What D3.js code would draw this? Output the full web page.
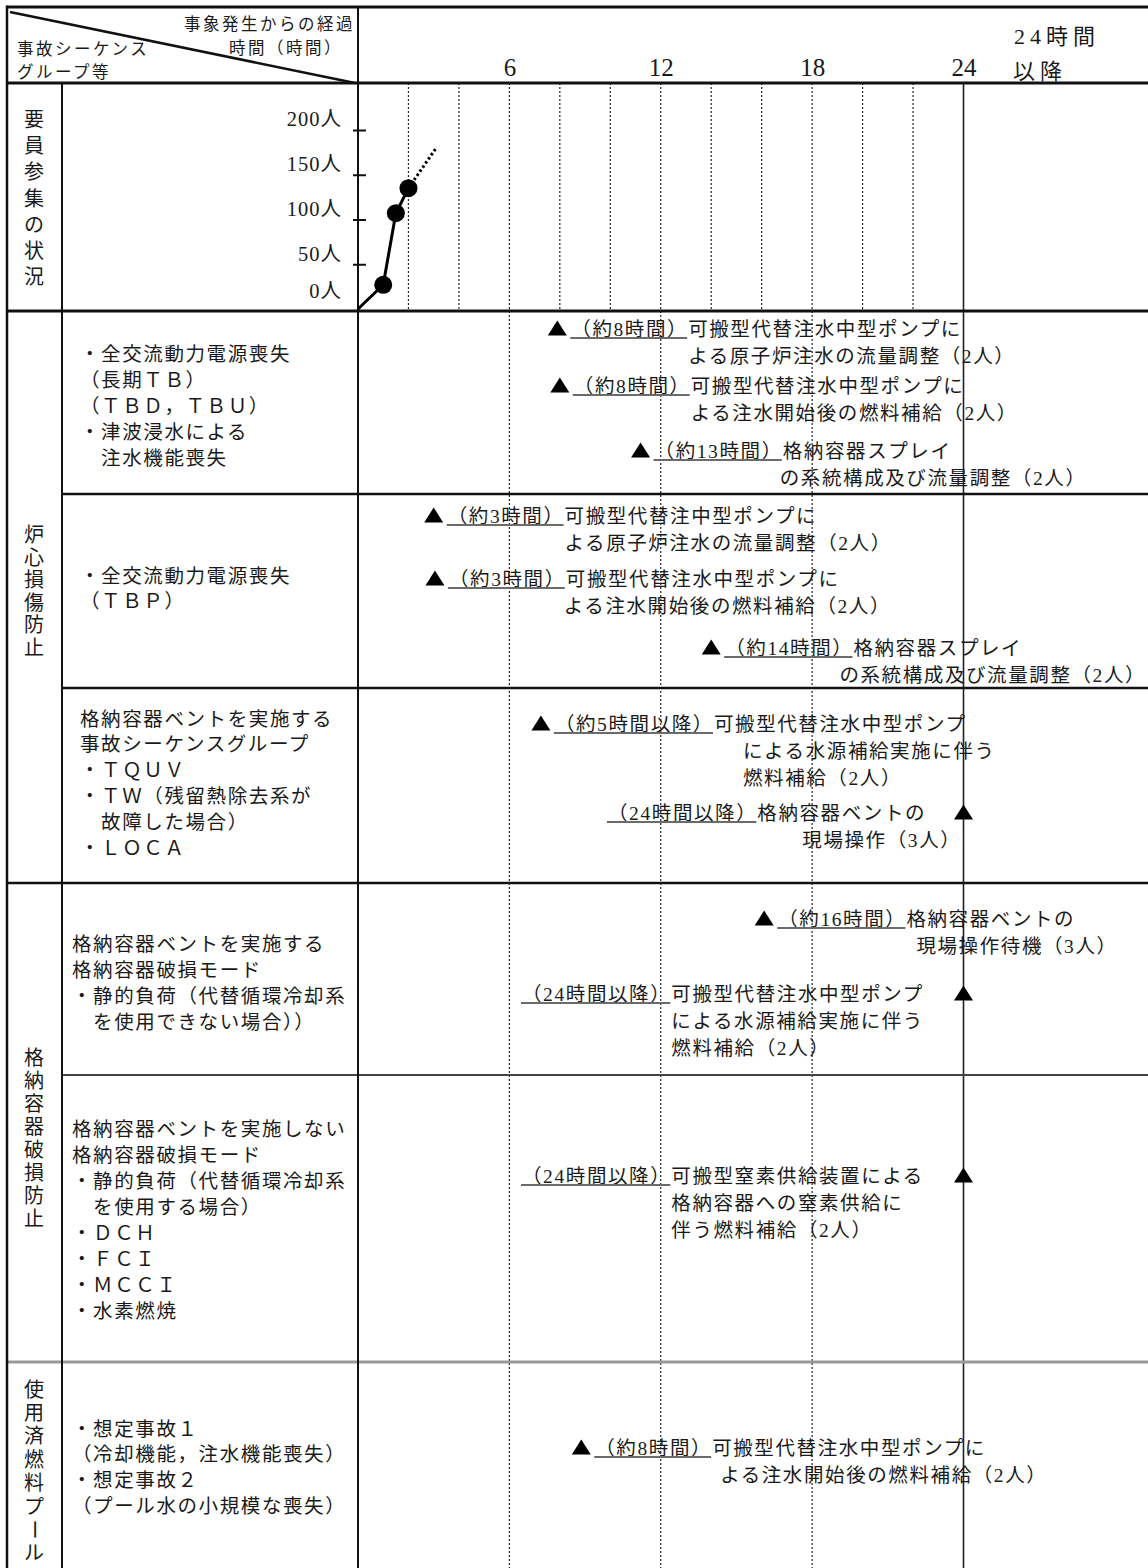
<!DOCTYPE html>
<html><head><meta charset="utf-8">
<script src="https://cdn.jsdelivr.net/npm/d3@7"></script>
<style>
html,body{margin:0;padding:0;background:#fff;}
svg{display:block;}
</style></head><body>
<svg id="chart" width="1148" height="1568"></svg>
<script>
// ---------------- data ----------------
const hourTicks = [6, 12, 18, 24];
const gridHours = [2, 4, 6, 8, 10, 12, 14, 16, 18, 20, 22];
const fullGridHours = [6, 12, 18];
const staffTickValues = [0, 50, 100, 150, 200];
const staffHours = [0, 1.0, 1.5, 2.0];
const staffCounts = [0, 27, 107, 135];
const staffTrendHours = [2.0, 3.1];
const staffTrendCounts = [135, 180];

const headerTopRight = ["事象発生からの経過", "時間（時間）"];
const headerLeft = ["事故シーケンス", "グループ等"];
const afterLabel = ["24時間", "以降"];
const sectionLabels = ["要員参集の状況", "炉心損傷防止", "格納容器破損防止", "使用済燃料プール"];
const groupLines = [
  ["・全交流動力電源喪失", "（長期ＴＢ）", "（ＴＢＤ，ＴＢＵ）", "・津波浸水による", "　注水機能喪失"],
  ["・全交流動力電源喪失", "（ＴＢＰ）"],
  ["格納容器ベントを実施する", "事故シーケンスグループ", "・ＴＱＵＶ", "・ＴＷ（残留熱除去系が", "　故障した場合）", "・ＬＯＣＡ"],
  ["格納容器ベントを実施する", "格納容器破損モード", "・静的負荷（代替循環冷却系", "　を使用できない場合））"],
  ["格納容器ベントを実施しない", "格納容器破損モード", "・静的負荷（代替循環冷却系", "　を使用する場合）", "・ＤＣＨ", "・ＦＣＩ", "・ＭＣＣＩ", "・水素燃焼"],
  ["・想定事故１", "（冷却機能，注水機能喪失）", "・想定事故２", "（プール水の小規模な喪失）"]
];
const eventHours = [7.9, 8.0, 11.2, 3.0, 3.05, 14.0, 7.25, 24, 16.1, 24, 24, 8.85];
const eventTimeLabels = ["（約8時間）", "（約8時間）", "（約13時間）", "（約3時間）", "（約3時間）", "（約14時間）",
  "（約5時間以降）", "（24時間以降）", "（約16時間）", "（24時間以降）", "（24時間以降）", "（約8時間）"];
const eventTexts = [
  ["可搬型代替注水中型ポンプに", "よる原子炉注水の流量調整（2人）"],
  ["可搬型代替注水中型ポンプに", "よる注水開始後の燃料補給（2人）"],
  ["格納容器スプレイ", "の系統構成及び流量調整（2人）"],
  ["可搬型代替注中型ポンプに", "よる原子炉注水の流量調整（2人）"],
  ["可搬型代替注水中型ポンプに", "よる注水開始後の燃料補給（2人）"],
  ["格納容器スプレイ", "の系統構成及び流量調整（2人）"],
  ["可搬型代替注水中型ポンプ", "による水源補給実施に伴う", "燃料補給（2人）"],
  ["格納容器ベントの", "現場操作（3人）"],
  ["格納容器ベントの", "現場操作待機（3人）"],
  ["可搬型代替注水中型ポンプ", "による水源補給実施に伴う", "燃料補給（2人）"],
  ["可搬型窒素供給装置による", "格納容器への窒素供給に", "伴う燃料補給（2人）"],
  ["可搬型代替注水中型ポンプに", "よる注水開始後の燃料補給（2人）"]
];

// ---------------- layout ----------------
const W = 1148, H = 1568;
const LEFT = 7, COL1 = 62, COL2 = 358, TOP = 7, HEADER = 83, STAFF_BOTTOM = 311;
const sectionCenters = [198, 591, 1138, 1471];
const sectionSteps = [26.3, 22.5, 22.9, 23.4];
const groupX = [80, 80, 80, 72, 72, 72];
const groupY0 = [353, 575, 718, 943, 1128, 1428];
const groupStep = [26.2, 25, 25.8, 26.3, 26, 25.7];
const eventY = [328, 385, 450, 515, 578, 647, 723, 812, 918, 993, 1175, 1447];
const eventLabelX = [null, null, null, null, null, null, null, 608, null, 522, 522, null];
const eventIndent = [0, 0, -3, 0, -2, -14, 29, 45, 10, 0, 0, 8];
const LINE_STEP = 27;
const BODY_SIZE = 19.5, BODY_LS = 1.6, BODY_DY = 7.5;

const FONT = "'Liberation Serif','Noto Sans CJK JP',serif";
const INK = "#1a1a1a";

const svg = d3.select("#chart");
svg.append("rect").attr("width", W).attr("height", H).attr("fill", "#fff");

const x = d3.scaleLinear().domain([0, 24]).range([COL2, 963.5]);
const yStaff = d3.scaleLinear().domain([0, 200]).range([309, 130]);

// ---------- grid lines ----------
svg.append("g").selectAll("line").data(gridHours).join("line")
  .attr("x1", d => x(d)).attr("x2", d => x(d))
  .attr("y1", HEADER).attr("y2", d => fullGridHours.includes(d) ? H : STAFF_BOTTOM)
  .attr("stroke", "#222").attr("stroke-width", 1.2).attr("stroke-dasharray", "2,2");
svg.append("line").attr("x1", x(24)).attr("x2", x(24)).attr("y1", HEADER).attr("y2", H)
  .attr("stroke", "#222").attr("stroke-width", 1.6);

// ---------- table lines ----------
const tl = svg.append("g");
function hl(y, x1, w, c) { tl.append("line").attr("x1", x1).attr("x2", W).attr("y1", y).attr("y2", y).attr("stroke", c || "#111").attr("stroke-width", w); }
function vl(xx, y1, w) { tl.append("line").attr("x1", xx).attr("x2", xx).attr("y1", y1).attr("y2", H).attr("stroke", "#111").attr("stroke-width", w); }
hl(TOP, LEFT, 3);
hl(HEADER, LEFT, 3);
hl(STAFF_BOTTOM, LEFT, 3);
hl(494, COL1, 2.5);
hl(688, COL1, 2.5);
hl(883, LEFT, 2.5);
hl(1075, COL1, 2, "#444");
hl(1362, LEFT, 3, "#999");
vl(LEFT, TOP - 1.5, 2.5);
vl(COL1, HEADER, 2);
vl(COL2, TOP, 2);
tl.append("line").attr("x1", 10).attr("y1", 12).attr("x2", 355).attr("y2", 83)
  .attr("stroke", "#111").attr("stroke-width", 2.5);

// ---------- header text ----------
function txt(g, s, xx, y, size, ls, anchor) {
  return g.append("text").attr("x", xx).attr("y", y).text(s)
    .attr("font-family", FONT).attr("font-size", size).attr("fill", INK)
    .style("letter-spacing", ls + "px").attr("text-anchor", anchor || "start");
}
const hg = svg.append("g");
txt(hg, headerTopRight[0], 355, 30, 16.5, 2.5, "end");
txt(hg, headerTopRight[1], 343, 54, 16.5, 2.5, "end");
txt(hg, headerLeft[0], 17, 55, 16.5, 2.5);
txt(hg, headerLeft[1], 17, 78, 16.5, 2.5);
txt(hg, afterLabel[0], 1057, 44, 22, 5, "middle");
txt(hg, afterLabel[1], 1040, 79, 22, 5, "middle");

// hour axis labels
const xAxis = d3.axisTop(x).tickValues(hourTicks).tickSize(0).tickPadding(0).tickFormat(d => d);
const xa = svg.append("g").attr("transform", `translate(0,76)`).call(xAxis);
xa.select(".domain").remove();
xa.selectAll("text").attr("font-family", "'Liberation Serif',serif").attr("font-size", 25)
  .attr("fill", INK).attr("dy", 0).attr("y", 0);

// ---------- staff axis ----------
const yAxis = d3.axisLeft(yStaff).tickValues(staffTickValues).tickSize(13).tickPadding(11)
  .tickFormat(d => d + "人");
const ya = svg.append("g").attr("transform", `translate(${COL2 + 8},0)`).call(yAxis);
ya.select(".domain").remove();
ya.selectAll(".tick line").attr("stroke", "#111").attr("stroke-width", 2)
  .attr("opacity", d => d === 0 ? 0 : 1);
ya.selectAll(".tick text").attr("font-family", FONT).attr("font-size", 20.5).attr("fill", INK)
  .style("letter-spacing", "1px")
  .attr("dy", d => d === 0 ? "-0.55em" : "-0.2em");

// staff line
const line = d3.line().x(d => x(d[0])).y(d => yStaff(d[1]));
svg.append("path").attr("d", line(d3.zip(staffHours, staffCounts)))
  .attr("fill", "none").attr("stroke", "#000").attr("stroke-width", 3);
svg.append("path").attr("d", line(d3.zip(staffTrendHours, staffTrendCounts)))
  .attr("fill", "none").attr("stroke", "#000").attr("stroke-width", 3).attr("stroke-dasharray", "2.5,2.5");
svg.append("g").selectAll("circle").data(d3.zip(staffHours, staffCounts).slice(1)).join("circle")
  .attr("cx", d => x(d[0])).attr("cy", d => yStaff(d[1])).attr("r", 9).attr("fill", "#000");

// ---------- section labels (vertical) ----------
const sg = svg.append("g");
sectionLabels.forEach((s, i) => {
  const chars = Array.from(s);
  const n = chars.length;
  chars.forEach((c, k) => {
    const cy = sectionCenters[i] + (k - (n - 1) / 2) * sectionSteps[i];
    const t = sg.append("text").attr("x", 34).attr("y", cy + 7.5).text(c)
      .attr("font-family", FONT).attr("font-size", 20).attr("fill", INK).attr("text-anchor", "middle");
    if (c === "ー") t.attr("transform", `rotate(90,34,${cy})`);
  });
});

// ---------- group labels ----------
const gg = svg.append("g");
groupLines.forEach((lines, i) => {
  lines.forEach((s, k) => {
    txt(gg, s, groupX[i], groupY0[i] + k * groupStep[i] + BODY_DY, BODY_SIZE, BODY_LS);
  });
});

// ---------- events ----------
const eg = svg.append("g");
eventHours.forEach((h, i) => {
  const tx = x(h), cy = eventY[i];
  eg.append("path").attr("d", `M${tx - 9.5},${cy + 7.5}L${tx + 9.5},${cy + 7.5}L${tx},${cy - 7.5}Z`)
    .attr("fill", "#000");
  const lx = eventLabelX[i] == null ? tx + 14 : eventLabelX[i];
  const lab = txt(eg, eventTimeLabels[i], lx, cy + BODY_DY, BODY_SIZE, BODY_LS);
  const w = lab.node().getComputedTextLength();
  eg.append("line").attr("x1", lx - 1).attr("x2", lx + w - 1).attr("y1", cy + 10).attr("y2", cy + 10)
    .attr("stroke", "#6b6b6b").attr("stroke-width", 2);
  const mx = lx + w;
  eventTexts[i].forEach((s, k) => {
    txt(eg, s, k === 0 ? mx : mx + eventIndent[i], cy + BODY_DY + k * LINE_STEP, BODY_SIZE, BODY_LS);
  });
});
</script>
</body></html>
